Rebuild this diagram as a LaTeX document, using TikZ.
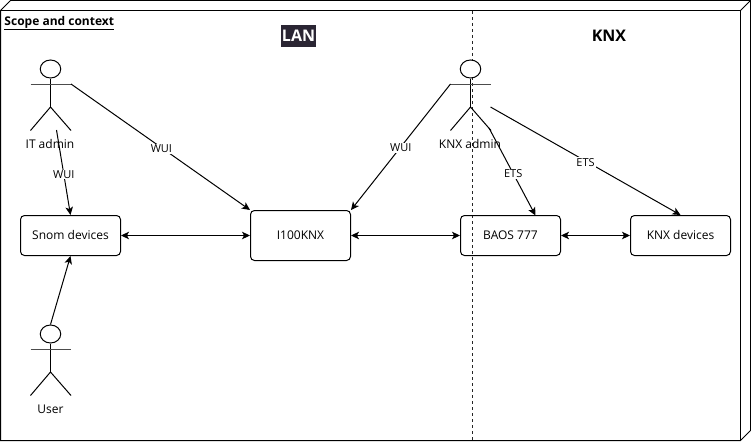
\documentclass[tikz,border=0pt]{standalone}
\usepackage{fontspec}
\setmainfont{Open Sans}
\usetikzlibrary{arrows.meta,shapes.geometric}
\definecolor{landark}{HTML}{2A2533}
\tikzset{
  x=1pt,y=-1pt,
  every path/.style={line width=1pt},
  frame/.style={draw,line join=miter},
  box/.style={draw,rounded corners=4pt,minimum width=100pt,inner sep=0pt,font=\fontsize{12}{14}\selectfont,text height=10pt,text depth=2pt},
  small/.style={minimum height=40pt},
  big/.style={minimum height=50pt},
  head/.style={draw,fill=white,ellipse,minimum width=20.5pt,minimum height=18pt,inner sep=0pt},
  actorlabel/.style={font=\fontsize{12}{14}\selectfont,inner sep=0pt},
  edgelabel/.style={fill=white,font=\fontsize{11}{13}\selectfont,inner sep=1pt},
  conn/.style={draw,-{Stealth[length=8pt,width=7.5pt,inset=2pt]}},
  both/.style={draw,{Stealth[length=8pt,width=7.5pt,inset=2pt]}-{Stealth[length=8pt,width=7.5pt,inset=2pt]}},
  heading/.style={font=\fontsize{16}{18}\selectfont\bfseries,inner sep=1pt},
}
\begin{document}
\begin{tikzpicture}
\useasboundingbox (0,0) rectangle (751,444);
% frame
\draw[frame] (0.5,10.5) -- (10.5,0.5) -- (750.5,0.5) -- (750.5,430.5) -- (740.5,440.5) -- (0.5,440.5) -- cycle;
\draw[frame] (0.5,10.5) -- (740.5,10.5) -- (740.5,440.5);
\draw[frame] (740.5,10.5) -- (750.5,0.5);
\node[font=\fontsize{12}{14}\selectfont\bfseries,anchor=west,inner sep=0pt] (title) at (4,23) {\underline{Scope and context}};
% zone separator
\coordinate (septop) at (472.5,11);
\coordinate (sepbot) at (472.5,440);
\draw[dash pattern=on 3pt off 3pt,draw=black!85] (septop) -- (sepbot);
\node[heading,fill=landark,text=white,minimum width=32pt,minimum height=22pt] (lan) at (298.5,36) {LAN};
\node[heading] (knxz) at (609,36) {KNX};
% boxes
\node[box,small] (snom) at (70.5,235.5) {Snom devices};
\node[box,big] (i100) at (300.5,235.5) {I100KNX};
\node[box,small] (baos) at (510.5,235.5) {BAOS 777};
\node[box,small] (knxd) at (680.5,235.5) {KNX devices};
% actors
\foreach \n/\cx/\cy in {it/50.5/0,ka/470.5/0,us/50.5/265}{
  \node[head] (\n head) at (\cx,69+\cy) {};
  \coordinate (\n neck) at (\cx,78+\cy);
  \coordinate (\n hip) at (\cx,107+\cy);
  \coordinate (\n lh) at (\cx-20,84+\cy);
  \coordinate (\n rh) at (\cx+20.5,84+\cy);
  \coordinate (\n lf) at (\cx-20,130.5+\cy);
  \coordinate (\n rf) at (\cx+20.5,130.5+\cy);
  \draw (\n head.south) -- (\n hip);
  \draw[black!70] (\n lh) -- (\n rh);
  \draw (\n lf) -- (\n hip) -- (\n rf);
}
\node[actorlabel] (itl) at (50,143.5) {IT admin};
\node[actorlabel] (kal) at (470,143.5) {KNX admin};
\node[actorlabel] (usl) at (50.5,409) {User};
% connectors
\coordinate (itfrom) at (56.5,130);
\coordinate (kafrom) at (489,128);
\coordinate (kaside) at (490.5,107);
\coordinate (baosin) at (535.5,215.5);
\path[conn] (itfrom) -- node[edgelabel,pos=0.52,yshift=-0.3pt] {WUI} (snom.north);
\path[conn] (itrh) -- node[edgelabel,pos=0.505,yshift=-1pt] {WUI} (i100.north west);
\path[conn] (kalh) -- node[edgelabel,pos=0.5,yshift=-1pt] {WUI} (i100.north east);
\path[conn] (kafrom) -- node[edgelabel,pos=0.52,yshift=-0.3pt] {ETS} (baosin);
\path[conn] (kaside) -- node[edgelabel,pos=0.5,yshift=-1.5pt] {ETS} (knxd.north);
\path[conn] (ushead.north) -- (snom.south);
\path[both] (snom.east) -- (i100.west);
\path[both] (i100.east) -- (baos.west);
\path[both] (baos.east) -- (knxd.west);
\end{tikzpicture}
\end{document}
